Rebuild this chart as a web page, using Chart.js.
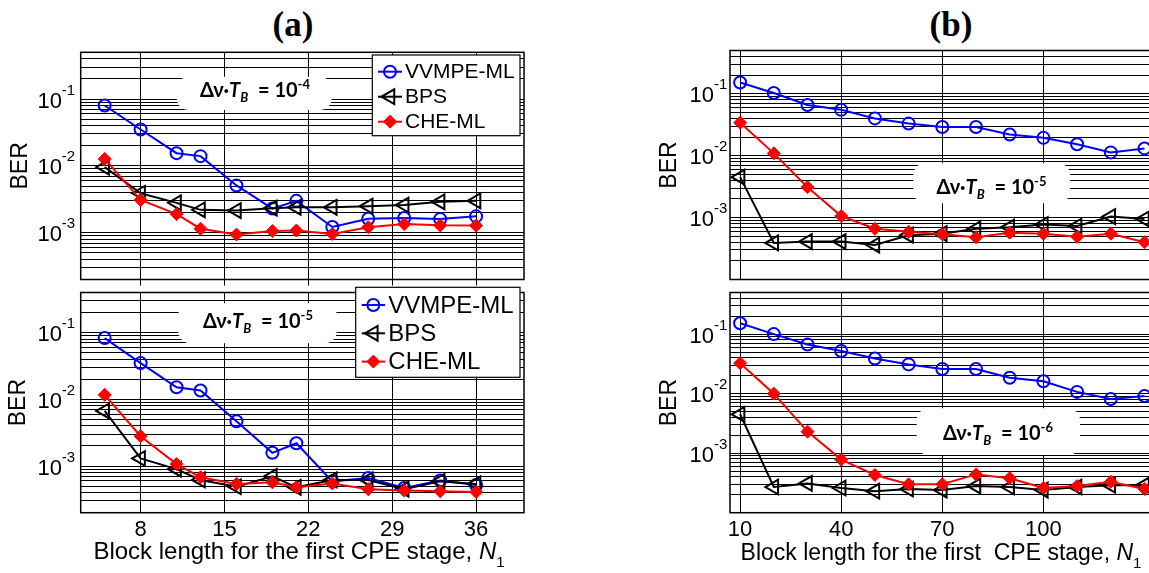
<!DOCTYPE html>
<html>
<head>
<meta charset="utf-8">
<script src="https://cdn.jsdelivr.net/npm/chart.js@4.4.0/dist/chart.umd.min.js"></script>
<style>
  html, body { margin: 0; padding: 0; overflow: hidden; background: #fff; }
  body { width: 1149px; height: 573px; position: relative; font-family: "Liberation Sans", Arial, sans-serif; }
  canvas { position: absolute; }
  .ptitle { position: absolute; top: 5px; width: 80px; text-align: center; font: bold 35px "Liberation Serif", "Times New Roman", serif; line-height: 40px; }
  .xtitle { position: absolute; width: 520px; text-align: center; line-height: 26px; white-space: pre; }
  .xtitle .s { font-size: 15px; position: relative; top: 8px; }
</style>
</head>
<body>
<div class="ptitle" style="left:253px">(a)</div>
<div class="ptitle" style="left:911px">(b)</div>

<canvas id="a4" width="540" height="250" style="left:0;top:40px"></canvas>
<canvas id="a5" width="540" height="291" style="left:0;top:282px"></canvas>
<canvas id="b5" width="530" height="250" style="left:640px;top:40px"></canvas>
<canvas id="b6" width="530" height="291" style="left:640px;top:282px"></canvas>

<div class="xtitle" style="left:39px;top:538px;font-size:24px">Block length for the first CPE stage, <i>N</i><span class="s">1</span></div>
<div class="xtitle" style="left:681px;top:538.7px;font-size:23px">Block length for the first  CPE stage, <i>N</i><span class="s">1</span></div>

<script>
const FONT = '"Liberation Sans", Arial, sans-serif';
const NOTE_FONT = 'Lato, "Open Sans", sans-serif';

// --- DATA ---
const nA = [5, 8, 11, 13, 16, 19, 21, 24, 27, 30, 33, 36];
const nB = [10, 20, 30, 40, 50, 60, 70, 80, 90, 100, 110, 120, 130];
const xTicksA = [8, 15, 22, 29, 36];
const xTicksB = [10, 40, 70, 100];
const decadeLabels = [-1, -2, -3];
const seriesNames = ['VVMPE-ML', 'BPS', 'CHE-ML'];

// (a) dv*T_B = 1e-4
const vvmpeA4 = [0.080, 0.035, 0.0155, 0.0140, 0.0051, 0.0023, 0.0030, 0.00122, 0.00162, 0.00166, 0.00160, 0.00176];
const bpsA4   = [0.0096, 0.0039, 0.0028, 0.0022, 0.00215, 0.00233, 0.0024, 0.0024, 0.0025, 0.0026, 0.0029, 0.0030];
const cheA4   = [0.0127, 0.0031, 0.0019, 0.00115, 0.00094, 0.00106, 0.00108, 0.00096, 0.00121, 0.00135, 0.00129, 0.00128];
// (a) dv*T_B = 1e-5
const vvmpeA5 = [0.083, 0.035, 0.0152, 0.0136, 0.0047, 0.00158, 0.0022, 0.00059, 0.00066, 0.00047, 0.00061, 0.00052];
const bpsA5   = [0.0067, 0.0013, 0.0009, 0.00062, 0.00049, 0.0007, 0.00048, 0.00062, 0.00062, 0.00045, 0.00059, 0.00054];
const cheA5   = [0.0117, 0.0028, 0.00107, 0.00068, 0.00054, 0.00057, 0.00048, 0.00055, 0.00045, 0.00043, 0.00042, 0.00041];
// (b) dv*T_B = 1e-5
const vvmpeB5 = [0.152, 0.103, 0.066, 0.055, 0.040, 0.033, 0.029, 0.029, 0.022, 0.0194, 0.0153, 0.0113, 0.0131];
const bpsB5   = [0.0045, 0.00039, 0.00041, 0.00041, 0.00036, 0.00052, 0.00055, 0.00066, 0.0007, 0.00077, 0.00073, 0.00104, 0.00095];
const cheB5   = [0.034, 0.0109, 0.0031, 0.00106, 0.00066, 0.00059, 0.00054, 0.00048, 0.00057, 0.00055, 0.00049, 0.00055, 0.0004];
// (b) dv*T_B = 1e-6
const vvmpeB6 = [0.152, 0.100, 0.067, 0.052, 0.039, 0.031, 0.026, 0.026, 0.0185, 0.0161, 0.0107, 0.0081, 0.0091];
const bpsB6   = [0.0045, 0.00027, 0.00031, 0.00026, 0.00023, 0.00025, 0.00024, 0.00028, 0.00027, 0.00024, 0.00027, 0.00029, 0.00029];
const cheB6   = [0.0325, 0.0100, 0.0023, 0.00078, 0.00043, 0.0003, 0.0003, 0.00044, 0.00038, 0.00026, 0.00028, 0.00033, 0.00025];

// --- HELPERS ---
function logTicks(min, max) {
    const out = [];
    for (let k = -6; k <= 1; k++) {
        for (let m = 1; m <= 9; m++) {
            const v = m * Math.pow(10, k);
            if (v >= min * 0.999 && v <= max * 1.001) out.push({ value: v });
        }
    }
    return out;
}

function pts(xs, ys) { return xs.map((x, i) => ({ x: x, y: ys[i] })); }

function drawRich(ctx, parts, cx, base) {
    let total = 0;
    parts.forEach(p => { ctx.font = p.font; p.w = ctx.measureText(p.t).width; total += p.w; });
    let x = cx - total / 2;
    ctx.textAlign = 'left'; ctx.textBaseline = 'alphabetic';
    parts.forEach(p => { ctx.font = p.font; ctx.fillText(p.t, x, base + (p.dy || 0)); x += p.w; });
}

// --- PLUGINS ---
const framePlugin = {
    id: 'frame',
    beforeDatasetsDraw(chart, args, opts) {
        const a = chart.chartArea, ctx = chart.ctx;
        ctx.save();
        // white note box over the grid
        if (opts.note) {
            const n = opts.note;
            ctx.fillStyle = '#fff';
            ctx.beginPath(); ctx.roundRect(n.x, n.y, n.w, n.h, 12); ctx.fill();
            ctx.fillStyle = '#000';
            drawRich(ctx, [
                { t: 'Δν·', font: 'bold 20px ' + NOTE_FONT },
                { t: 'T', font: 'italic bold 20px ' + NOTE_FONT },
                { t: 'B', font: 'italic bold 13px ' + NOTE_FONT, dy: 5 },
                { t: '  = 10', font: 'bold 20px ' + NOTE_FONT },
                { t: n.exp, font: 'bold 13px ' + NOTE_FONT, dy: -8 }
            ], n.cx, n.base);
        }
        ctx.strokeStyle = '#000'; ctx.lineWidth = 1.5;
        ctx.strokeRect(a.left, a.top, a.right - a.left, a.bottom - a.top);
        ctx.restore();
    },
    afterDraw(chart, args, opts) {
        const ctx = chart.ctx, a = chart.chartArea, ys = chart.scales.y;
        ctx.save();
        ctx.fillStyle = '#000';
        ctx.textAlign = 'right'; ctx.textBaseline = 'alphabetic';
        decadeLabels.forEach(k => {
            const y = ys.getPixelForValue(Math.pow(10, k));
            const ex = String(k);
            ctx.font = '15px ' + FONT;
            const ew = ctx.measureText(ex).width;
            ctx.fillText(ex, a.left - opts.gap, y - 4.5);
            ctx.font = '22px ' + FONT;
            ctx.fillText('10', a.left - opts.gap - ew, y + 8.5);
        });
        // boxed legend
        const L = opts.legend;
        if (L) {
            ctx.fillStyle = '#fff';
            ctx.fillRect(L.x, L.y, L.w, L.h);
            ctx.strokeStyle = '#000'; ctx.lineWidth = 1.2;
            ctx.strokeRect(L.x, L.y, L.w, L.h);
            chart.data.datasets.forEach((ds, i) => {
                const y = L.y + L.rowTop + i * L.rowGap;
                ctx.strokeStyle = ds.borderColor; ctx.lineWidth = 2;
                ctx.beginPath(); ctx.moveTo(L.x + L.lineX0, y); ctx.lineTo(L.x + L.lineX1, y); ctx.stroke();
                ctx.fillStyle = ds.pointBackgroundColor;
                ctx.lineWidth = ds.pointBorderWidth;
                Chart.helpers.drawPoint(ctx, {
                    pointStyle: ds.pointStyle, radius: ds.pointRadius,
                    rotation: ds.pointRotation || 0, borderWidth: ds.pointBorderWidth
                }, L.x + (L.lineX0 + L.lineX1) / 2, y);
                ctx.fillStyle = '#000';
                ctx.font = L.fontSize + 'px ' + FONT;
                ctx.textAlign = 'left'; ctx.textBaseline = 'middle';
                ctx.fillText(ds.label, L.x + L.textX, y + 1);
            });
        }
        ctx.restore();
    }
};

function makePanel(id, cfg) {
    const ctx = document.getElementById(id).getContext('2d');
    return new Chart(ctx, {
        type: 'line',
        data: {
            datasets: [
                { label: seriesNames[0], data: pts(cfg.x, cfg.vvmpe), order: 2, borderColor: '#0000ff', borderWidth: 2,
                  pointStyle: 'circle', pointRadius: 6, pointBorderWidth: 2, pointBorderColor: '#0000ff', pointBackgroundColor: 'rgba(0,0,0,0)' },
                { label: seriesNames[1], data: pts(cfg.x, cfg.bps), order: 1, borderColor: '#000000', borderWidth: 2,
                  pointStyle: 'triangle', pointRotation: -90, pointRadius: 8.5, pointBorderWidth: 2, pointBorderColor: '#000000', pointBackgroundColor: 'rgba(0,0,0,0)' },
                { label: seriesNames[2], data: pts(cfg.x, cfg.che), order: 0, borderColor: '#ff0000', borderWidth: 2,
                  pointStyle: 'rectRot', pointRadius: 6.5, pointBorderWidth: 1, pointBorderColor: '#ff0000', pointBackgroundColor: '#ff0000' }
            ]
        },
        options: {
            responsive: false, animation: false, devicePixelRatio: 1,
            layout: { padding: { top: cfg.padTop, right: cfg.padRight, left: 0, bottom: 0 } },
            plugins: {
                legend: { display: false }, tooltip: { enabled: false },
                frame: { gap: cfg.labelGap, legend: cfg.legend || null, note: cfg.note }
            },
            scales: {
                x: {
                    type: 'linear', min: cfg.xMin, max: cfg.xMax,
                    afterBuildTicks: s => { s.ticks = cfg.xTicks.map(v => ({ value: v })); },
                    afterFit: s => { s.height = cfg.xAxisH; },
                    grid: { color: '#000', lineWidth: 1, drawTicks: cfg.tickMarks, tickLength: 6, tickColor: '#000' },
                    border: { display: false },
                    ticks: { display: cfg.xLabels, color: '#000', font: { family: FONT, size: 22 }, padding: 4, maxRotation: 0, autoSkip: false }
                },
                y: {
                    type: 'logarithmic', min: cfg.yMin, max: cfg.yMax,
                    afterBuildTicks: s => { s.ticks = logTicks(cfg.yMin, cfg.yMax); },
                    afterFit: s => { s.width = cfg.yAxisW; },
                    grid: { color: '#000', lineWidth: 1, drawTicks: false },
                    border: { display: false },
                    ticks: { display: false },
                    title: { display: true, text: 'BER', color: '#000', font: { family: FONT, size: 23 }, padding: { top: cfg.titlePad, bottom: 0 } }
                }
            }
        },
        plugins: [framePlugin]
    });
}

// --- PANELS ---
makePanel('a4', {
    x: nA, vvmpe: vvmpeA4, bps: bpsA4, che: cheA4,
    xMin: 3, xMax: 40, xTicks: xTicksA, yMin: 2e-4, yMax: 0.5,
    padTop: 12.3, padRight: 16, yAxisW: 80.7, xAxisH: 8.3, titlePad: 7, labelGap: 5.5,
    xLabels: false, tickMarks: true,
    legend: { x: 372.3, y: 15, w: 147.7, h: 80.7, rowTop: 16.7, rowGap: 25, lineX0: 5.7, lineX1: 29.7, textX: 32.7, fontSize: 21 },
    note: { x: 176.7, y: 36.7, w: 155, h: 33.3, cx: 255, base: 57, exp: '-4' }
});
makePanel('a5', {
    x: nA, vvmpe: vvmpeA5, bps: bpsA5, che: cheA5,
    xMin: 3, xMax: 40, xTicks: xTicksA, yMin: 2e-4, yMax: 0.4,
    padTop: 9.7, padRight: 16, yAxisW: 80.7, xAxisH: 60.3, titlePad: 5, labelGap: 5.5,
    xLabels: true, tickMarks: false,
    legend: { x: 355.7, y: 5.3, w: 164.3, h: 90, rowTop: 17.7, rowGap: 28.3, lineX0: 6, lineX1: 29.3, textX: 32.6, fontSize: 24 },
    note: { x: 178.3, y: 21.3, w: 158.4, h: 40, cx: 258, base: 45.5, exp: '-5' }
});
makePanel('b5', {
    x: nB, vvmpe: vvmpeB5, bps: bpsB5, che: cheB5,
    xMin: 7, xMax: 133, xTicks: xTicksB, yMin: 1e-4, yMax: 0.5,
    padTop: 10, padRight: 15.4, yAxisW: 90, xAxisH: 3.3, titlePad: 16, labelGap: 2.7,
    xLabels: false, tickMarks: false,
    note: { x: 273.3, y: 123.3, w: 156.7, h: 40, cx: 351.5, base: 154, exp: '-5' }
});
makePanel('b6', {
    x: nB, vvmpe: vvmpeB6, bps: bpsB6, che: cheB6,
    xMin: 7, xMax: 133, xTicks: xTicksB, yMin: 1e-4, yMax: 0.5,
    padTop: 6.3, padRight: 15.4, yAxisW: 90, xAxisH: 60.3, titlePad: 16, labelGap: 2.7,
    xLabels: true, tickMarks: false,
    note: { x: 276.7, y: 126.3, w: 163.3, h: 46.7, cx: 358, base: 158, exp: '-6' }
});
</script>
</body>
</html>
